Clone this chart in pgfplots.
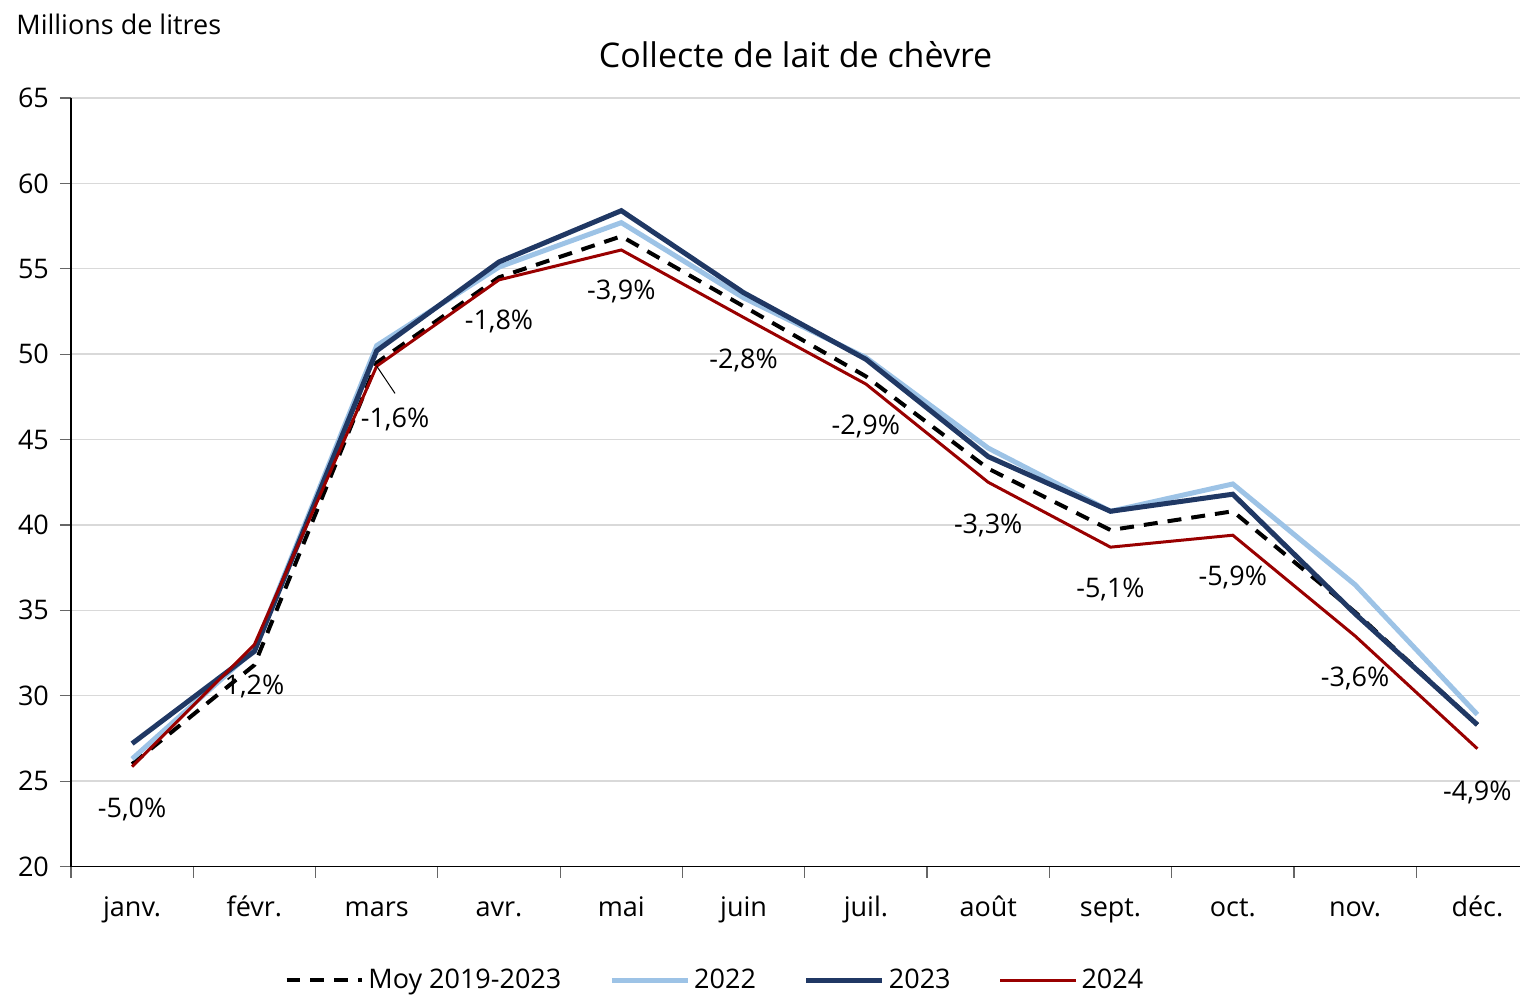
\documentclass[border=0pt]{standalone}
\usepackage{pgfplots}
\pgfplotsset{compat=1.18}
\usepackage{fontspec}
\setmainfont{Open Sans}
\definecolor{c22}{HTML}{9DC3E6}
\definecolor{c23}{HTML}{203864}
\definecolor{c24}{HTML}{990000}
\begin{document}
\begin{tikzpicture}
\begin{axis}[
    at={(0,0)}, anchor=south west,
    scale only axis,
    width=725pt, height=384.5pt,
    xmin=-0.5, xmax=11.35,
    ymin=20, ymax=65,
    ytick={20,25,...,65},
    xtick={0,...,11},
    xticklabels={janv.,févr.,mars,avr.,mai,juin,juil.,août,sept.,oct.,nov.,déc.},
    minor xtick={-0.5,0.5,...,10.5},
    major x tick style={draw=none},
    tick align=outside,
    major tick length=5.5pt, minor tick length=5.5pt,
    tick style={black!60, line width=0.6pt},
    axis x line*=bottom, axis y line*=left,
    axis line style={black, line width=0.8pt, -},
    ymajorgrids, grid style={black!15, line width=0.7pt},
    tick label style={font=\fontsize{13.5}{16}\selectfont},
    xticklabel style={anchor=north, text height=1.6ex, text depth=0.3ex, yshift=-7.5pt},
    yticklabel style={xshift=-2pt},
    /pgf/number format/assume math mode=true,
    clip=false,
    legend style={draw=none, at={(0.445,-57pt)}, anchor=center, legend columns=4,
        font=\fontsize{13.5}{16}\selectfont,
        /tikz/every even column/.append style={column sep=22pt}},
    legend image code/.code={\draw[#1] (0pt,0pt) -- (38pt,0pt);},
]
\addplot[black, line width=2pt, dash pattern=on 7pt off 5pt] coordinates {
(0,26.0) (1,31.8) (2,49.5) (3,54.5) (4,56.9) (5,52.8) (6,48.7) (7,43.3) (8,39.7) (9,40.8) (10,34.9) (11,28.3)};
\addlegendentry{Moy 2019-2023}
\addplot[c22, line width=2.5pt] coordinates {
(0,26.3) (1,32.7) (2,50.5) (3,55.1) (4,57.7) (5,53.3) (6,49.8) (7,44.5) (8,40.8) (9,42.4) (10,36.5) (11,28.9)};
\addlegendentry{2022}
\addplot[c23, line width=2.5pt] coordinates {
(0,27.2) (1,32.6) (2,50.2) (3,55.4) (4,58.4) (5,53.6) (6,49.7) (7,44.0) (8,40.8) (9,41.8) (10,34.8) (11,28.3)};
\addlegendentry{2023}
\addplot[c24, line width=1.5pt] coordinates {
(0,25.85) (1,33.0) (2,49.3) (3,54.35) (4,56.1) (5,52.15) (6,48.25) (7,42.5) (8,38.7) (9,39.4) (10,33.5) (11,26.9)};
\addlegendentry{2024}
\begin{scope}[every node/.style={font=\fontsize{13.5}{16}\selectfont}]
\node at (axis cs:0,23.35) {-5,0\%};
\node at (axis cs:1,30.55) {1,2\%};
\draw[black, line width=0.5pt] (axis cs:2,49.3) -- (axis cs:2.15,47.7);
\node at (axis cs:2.15,46.15) {-1,6\%};
\node at (axis cs:3,51.9) {-1,8\%};
\node at (axis cs:4,53.65) {-3,9\%};
\node at (axis cs:5,49.65) {-2,8\%};
\node at (axis cs:6,45.75) {-2,9\%};
\node at (axis cs:7,39.95) {-3,3\%};
\node at (axis cs:8,36.2) {-5,1\%};
\node at (axis cs:9,36.9) {-5,9\%};
\node at (axis cs:10,31.0) {-3,6\%};
\node at (axis cs:11,24.35) {-4,9\%};
\end{scope}
\node[font=\fontsize{17}{20}\selectfont] at (rel axis cs:0.5,1) [yshift=21.5pt] {Collecte de lait de chèvre};
\node[font=\fontsize{13.5}{16}\selectfont, anchor=west, inner sep=0pt] at (rel axis cs:0,1) [xshift=-27.5pt, yshift=37pt] {Millions de litres};
\end{axis}
\useasboundingbox (-35.5pt,-62.5pt) rectangle (725pt,433.5pt);
\end{tikzpicture}
\end{document}
